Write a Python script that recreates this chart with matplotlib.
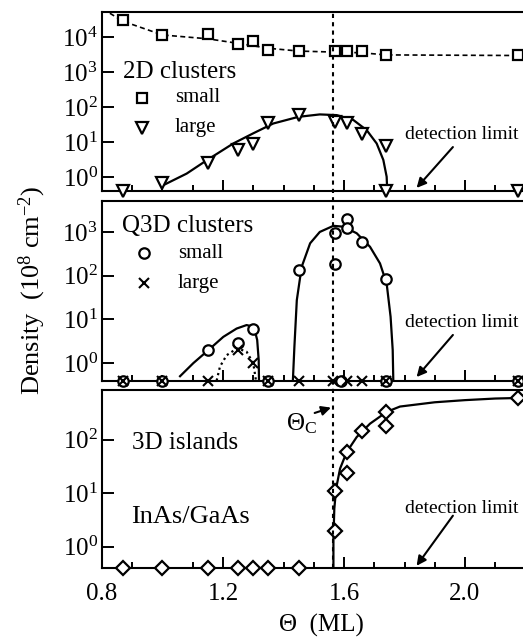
import numpy as np
import matplotlib.pyplot as plt
from matplotlib.lines import Line2D
from matplotlib.ticker import MultipleLocator, NullLocator, FixedLocator, LogFormatterMathtext

plt.rcParams['font.family'] = ['Liberation Serif', 'DejaVu Serif']
plt.rcParams['mathtext.fontset'] = 'custom'
plt.rcParams['mathtext.rm'] = 'Liberation Serif'
plt.rcParams['mathtext.it'] = 'Liberation Serif:italic'
plt.rcParams['mathtext.bf'] = 'Liberation Serif:bold'

DET = 0.4          # detection limit (sits on the bottom spine)
THETA_C = 1.565    # critical coverage

# ---- 2D clusters ----
small2d_x = [0.87, 1.00, 1.15, 1.25, 1.30, 1.35, 1.45, 1.57, 1.61, 1.66, 1.74, 2.175]
small2d_y = [3.1e4, 1.15e4, 1.2e4, 6.2e3, 7.9e3, 4.2e3, 4.1e3, 4.0e3, 4.0e3, 4.1e3, 3.1e3, 3.1e3]
small2d_fit_x = [0.826, 0.87, 1.00, 1.15, 1.25, 1.35, 1.45, 1.57, 1.66, 1.74, 2.25]
small2d_fit_y = 10 ** np.array([4.68, 4.45, 4.06, 3.95, 3.82, 3.68, 3.60, 3.57, 3.55, 3.49, 3.47])

large2d_x = [0.87, 1.00, 1.15, 1.25, 1.30, 1.35, 1.45, 1.57, 1.61, 1.66, 1.74, 1.74, 2.175]
large2d_y = [DET, 0.69, 2.5, 5.9, 8.7, 35, 59, 37, 35, 17, 7.7, DET, DET]
large2d_fit_x = [1.003, 1.08, 1.148, 1.234, 1.30, 1.366, 1.449, 1.52, 1.576, 1.631,
                 1.675, 1.708, 1.73, 1.741, 1.743]
large2d_fit_y = 10 ** np.array([-0.23, 0.10, 0.49, 0.96, 1.25, 1.53, 1.72, 1.79, 1.77, 1.63,
                                1.34, 0.96, 0.49, 0.01, -0.40])

# ---- Q3D clusters ----
smallq_x = [0.87, 1.00, 1.15, 1.25, 1.30, 1.35, 1.45, 1.57, 1.57, 1.59, 1.61, 1.61, 1.66, 1.74, 1.74, 2.175]
smallq_y = [DET, DET, 2.0, 2.9, 5.9, DET, 137, 950, 186, DET, 2000, 1230, 590, 85, DET, DET]
largeq_x = [0.87, 1.00, 1.15, 1.25, 1.30, 1.35, 1.45, 1.565, 1.61, 1.66, 1.74, 2.175]
largeq_y = [DET, DET, DET, 2.0, 1.0, DET, DET, DET, DET, DET, DET, DET]

smallq_fit1_x = [1.058, 1.102, 1.152, 1.201, 1.245, 1.278, 1.302, 1.313, 1.318, 1.319]
smallq_fit1_y = 10 ** np.array([-0.30, 0.0, 0.30, 0.60, 0.79, 0.87, 0.83, 0.53, 0.07, -0.40])
smallq_fit2_x = [1.431, 1.436, 1.444, 1.46, 1.488, 1.52, 1.565, 1.598, 1.642, 1.686,
                 1.719, 1.741, 1.754, 1.761, 1.763]
smallq_fit2_y = 10 ** np.array([-0.40, 0.37, 1.44, 2.20, 2.74, 3.00, 3.14, 3.12, 2.97, 2.66,
                                2.28, 1.82, 1.06, 0.30, -0.40])
largeq_fit_x = [1.179, 1.19, 1.212, 1.247, 1.278, 1.30, 1.309]
largeq_fit_y = 10 ** np.array([-0.40, -0.08, 0.18, 0.34, 0.26, 0.0, -0.40])

# ---- 3D islands ----
isl_x = [0.87, 1.00, 1.15, 1.25, 1.30, 1.35, 1.45, 1.57, 1.57, 1.61, 1.61, 1.66, 1.74, 1.74, 2.175]
isl_y = [DET, DET, DET, DET, DET, DET, DET, 2.0, 11, 24, 59, 148, 180, 330, 590]
isl_fit_x = [0.80, 1.565, 1.565, 1.568, 1.574, 1.587, 1.609, 1.642, 1.686, 1.741, 1.785,
             1.90, 2.00, 2.10, 2.175]
isl_fit_y = 10 ** np.array([-0.40, -0.40, 0.15, 0.71, 1.09, 1.46, 1.77, 2.05, 2.30, 2.52, 2.62,
                            2.70, 2.74, 2.77, 2.78])

XMIN, XMAX = 0.8, 2.25
W, H = 523, 642
fig = plt.figure(figsize=(W / 100, H / 100), dpi=100)

left = 102 / W
width = (XMAX - XMIN) * 302.5 / W


def make_axes(top_px, bot_px):
    return fig.add_axes([left, (H - bot_px) / H, width, (bot_px - top_px) / H])


ax1 = make_axes(12, 191)
ax2 = make_axes(201, 380.5)
ax3 = make_axes(390, 568)

ylims = [(DET, 5.2e4), (DET, 5.1e3), (DET, 850)]
yticks = [[1, 10, 100, 1e3, 1e4], [1, 10, 100, 1e3], [1, 10, 100]]
for ax, yl, yt in zip([ax1, ax2, ax3], ylims, yticks):
    ax.set_yscale('log')
    ax.set_xlim(XMIN, XMAX)
    ax.set_ylim(*yl)
    ax.yaxis.set_major_locator(FixedLocator(yt))
    ax.yaxis.set_major_formatter(LogFormatterMathtext())
    ax.yaxis.set_minor_locator(NullLocator())
    ax.xaxis.set_major_locator(MultipleLocator(0.4))
    ax.xaxis.set_minor_locator(MultipleLocator(0.1))
    ax.tick_params(which='both', direction='in', width=1.4, top=False, right=True)
    ax.tick_params(axis='x', which='major', length=8, pad=11, labelsize=18)
    ax.tick_params(axis='x', which='minor', length=4.5)
    ax.tick_params(axis='y', which='major', length=8.5, pad=3, labelsize=18)
    for s in ax.spines.values():
        s.set_linewidth(1.5)
    if ax is not ax3:
        ax.tick_params(axis='x', labelbottom=False)

mk = dict(mfc='white', mec='black', mew=1.6, ls='none', clip_on=False, zorder=5)

# 2D clusters
ax1.plot(small2d_fit_x, small2d_fit_y, color='black', lw=1.2, ls=(0, (3, 2)))
ax1.plot(large2d_fit_x, large2d_fit_y, color='black', lw=1.6)
ax1.plot(small2d_x, small2d_y, marker='s', ms=7.5, **mk)
ax1.plot(large2d_x, large2d_y, marker='v', ms=8.5, **mk)

# Q3D clusters
ax2.plot(smallq_fit1_x, smallq_fit1_y, color='black', lw=1.6)
ax2.plot(smallq_fit2_x, smallq_fit2_y, color='black', lw=1.6)
ax2.plot(largeq_fit_x, largeq_fit_y, color='black', lw=1.6, ls=(0, (1, 1.5)))
ax2.plot(smallq_x, smallq_y, marker='o', ms=7.5, **mk)
ax2.plot(largeq_x, largeq_y, marker='x', ms=7, color='black', mew=1.5, ls='none',
         clip_on=False, zorder=6)

# 3D islands
ax3.plot(isl_fit_x, isl_fit_y, color='black', lw=1.6)
ax3.plot(isl_x, isl_y, marker='D', ms=7, **mk)

# critical coverage line spanning all panels
xf = left + (THETA_C - XMIN) / (XMAX - XMIN) * width
fig.add_artist(Line2D([xf, xf], [(H - 568) / H, (H - 12) / H], color='black', lw=1.5,
                      ls=(0, (2, 2)), transform=fig.transFigure))

# legends / labels
ax1.text(0.048, 0.665, '2D clusters', transform=ax1.transAxes, fontsize=18, va='center')
ax1.plot([0.091], [0.52], marker='s', ms=7.5, transform=ax1.transAxes, **mk)
ax1.plot([0.091], [0.352], marker='v', ms=8.5, transform=ax1.transAxes, **mk)
ax1.text(0.166, 0.52, 'small', transform=ax1.transAxes, fontsize=15, va='center')
ax1.text(0.166, 0.352, 'large', transform=ax1.transAxes, fontsize=15, va='center')

ax2.text(0.046, 0.861, 'Q3D clusters', transform=ax2.transAxes, fontsize=18, va='center')
ax2.plot([0.0958], [0.71], marker='o', ms=7.5, transform=ax2.transAxes, **mk)
ax2.plot([0.0958], [0.543], marker='x', ms=7, color='black', mew=1.5,
         transform=ax2.transAxes, clip_on=False)
ax2.text(0.173, 0.71, 'small', transform=ax2.transAxes, fontsize=15, va='center')
ax2.text(0.173, 0.543, 'large', transform=ax2.transAxes, fontsize=15, va='center')

ax3.text(0.068, 0.702, '3D islands', transform=ax3.transAxes, fontsize=18, va='center')
ax3.text(0.066, 0.287, 'InAs/GaAs', transform=ax3.transAxes, fontsize=19, va='center')

# detection limit annotations
arr = dict(arrowstyle='-|>', color='black', lw=1.5, mutation_scale=14, shrinkA=0, shrinkB=0)
for ax, ty, tail_y, tip_y in [(ax1, 16, 7.2, 0.49), (ax2, 8.7, 4.4, 0.48), (ax3, 5.1, 3.8, 0.44)]:
    ax.text(1.99, ty, 'detection limit', fontsize=14, ha='center', va='center')
    ax.annotate('', xy=(1.84, tip_y), xytext=(1.96, tail_y), arrowprops=arr)

# Theta_C annotation
ax3.text(1.46, 10 ** 2.3, r'$\Theta_\mathrm{C}$', fontsize=18, ha='center', va='center')
ax3.annotate('', xy=(1.557, 10 ** 2.6), xytext=(1.503, 10 ** 2.5), arrowprops=arr)

ax3.set_xlabel('\u0398  (ML)', fontsize=18, labelpad=6)
fig.text(32 / W, 1 - 290 / H, 'Density  (10$^8$ cm$^{-2}$)', rotation=90,
         fontsize=19, ha='center', va='center')

fig.savefig('out.png', dpi=100)
